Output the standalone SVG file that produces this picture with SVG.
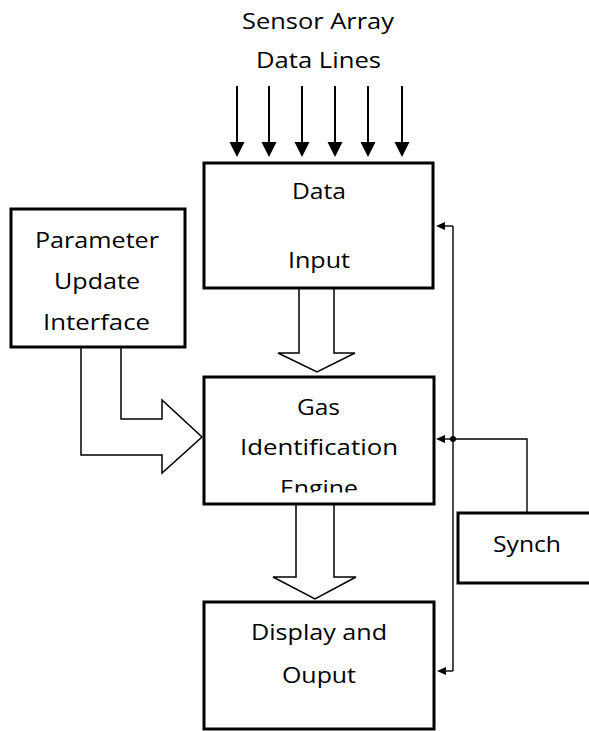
<svg xmlns="http://www.w3.org/2000/svg" width="589" height="731" viewBox="0 0 589 731">
  <style>
    .box { fill: #fff; stroke: #000; stroke-width: 3; }
    .lbl { font-family: "Open Sans", "Liberation Sans", sans-serif; font-size: 22px; fill: #000; text-anchor: middle; }
    .fat { fill: #fff; stroke: #000; stroke-width: 1.5; stroke-linejoin: miter; }
    .bus { stroke: #000; stroke-width: 2; fill: none; }
    .thin { stroke: #000; stroke-width: 1.4; fill: none; }
  </style>
  <defs>
    <marker id="bigHead" markerUnits="userSpaceOnUse" markerWidth="16" markerHeight="16" refX="8" refY="7.5" orient="auto">
      <path d="M0,0 L15,7.5 L0,15 z" fill="#000"/>
    </marker>
    <marker id="smallHead" markerUnits="userSpaceOnUse" markerWidth="10" markerHeight="10" refX="5" refY="4" orient="auto">
      <path d="M0,0 L9,4 L0,8 z" fill="#000"/>
    </marker>
    <clipPath id="engineClip">
      <rect x="204" y="377" width="230" height="115.5"/>
    </clipPath>
  </defs>

  <g id="title">
    <text class="lbl" x="318" y="29" textLength="152" lengthAdjust="spacingAndGlyphs">Sensor Array</text>
    <text class="lbl" x="318.5" y="68" textLength="125" lengthAdjust="spacingAndGlyphs">Data Lines</text>
  </g>

  <g id="connectors">
    <line class="bus" x1="237" y1="86" x2="237" y2="150" marker-end="url(#bigHead)"/>
    <line class="bus" x1="269" y1="86" x2="269" y2="150" marker-end="url(#bigHead)"/>
    <line class="bus" x1="302" y1="86" x2="302" y2="150" marker-end="url(#bigHead)"/>
    <line class="bus" x1="335" y1="86" x2="335" y2="150" marker-end="url(#bigHead)"/>
    <line class="bus" x1="368" y1="86" x2="368" y2="150" marker-end="url(#bigHead)"/>
    <line class="bus" x1="402" y1="86" x2="402" y2="150" marker-end="url(#bigHead)"/>

    <polyline class="fat" points="299,289 299,353 278,353 317,372 355,353 334,353 334,289"/>
    <polyline class="fat" points="296,504 296,577 273,577 315,599 356,577 334,577 334,504"/>
    <polyline class="fat" points="81,347 81,455 162,455 162,473 202,437 162,400 162,419 121,419 121,347"/>

    <line class="thin" x1="453" y1="226" x2="453" y2="671"/>
    <line class="thin" x1="453" y1="226" x2="440" y2="226" marker-end="url(#smallHead)"/>
    <line class="thin" x1="453" y1="439" x2="440" y2="439" marker-end="url(#smallHead)"/>
    <line class="thin" x1="453" y1="671" x2="441" y2="671" marker-end="url(#smallHead)"/>
    <polyline class="thin" points="527,513 527,439 453,439"/>
    <circle cx="453" cy="439" r="3" fill="#000"/>
  </g>

  <g id="data-input">
    <rect class="box" x="204" y="163" width="229" height="125"/>
    <text class="lbl" x="319" y="199" textLength="54" lengthAdjust="spacingAndGlyphs">Data</text>
    <text class="lbl" x="319" y="268" textLength="62" lengthAdjust="spacingAndGlyphs">Input</text>
  </g>

  <g id="parameter-update-interface">
    <rect class="box" x="11" y="209" width="174" height="138"/>
    <text class="lbl" x="97" y="248" textLength="124" lengthAdjust="spacingAndGlyphs">Parameter</text>
    <text class="lbl" x="97" y="289" textLength="86" lengthAdjust="spacingAndGlyphs">Update</text>
    <text class="lbl" x="96.5" y="330" textLength="107" lengthAdjust="spacingAndGlyphs">Interface</text>
  </g>

  <g id="gas-identification-engine">
    <rect class="box" x="204" y="377" width="230" height="127"/>
    <text class="lbl" x="318.5" y="415" textLength="43" lengthAdjust="spacingAndGlyphs">Gas</text>
    <text class="lbl" x="319" y="455" textLength="158" lengthAdjust="spacingAndGlyphs">Identification</text>
    <text class="lbl" x="319" y="496" textLength="78" lengthAdjust="spacingAndGlyphs" clip-path="url(#engineClip)">Engine</text>
  </g>

  <g id="synch">
    <rect class="box" x="458" y="513" width="160" height="70"/>
    <text class="lbl" x="527" y="552" textLength="68" lengthAdjust="spacingAndGlyphs">Synch</text>
  </g>

  <g id="display-output">
    <rect class="box" x="204" y="602" width="230" height="127"/>
    <text class="lbl" x="319" y="640" textLength="136" lengthAdjust="spacingAndGlyphs">Display and</text>
    <text class="lbl" x="319" y="683" textLength="74" lengthAdjust="spacingAndGlyphs">Ouput</text>
  </g>
</svg>
